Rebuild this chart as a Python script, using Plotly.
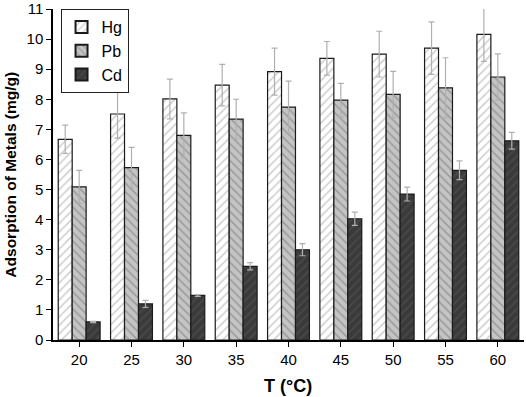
import plotly.graph_objects as go

temps = [20, 25, 30, 35, 40, 45, 50, 55, 60]
hg = [6.67, 7.51, 8.01, 8.47, 8.92, 9.36, 9.50, 9.70, 10.16]
hg_err = [0.47, 0.80, 0.66, 0.69, 0.78, 0.56, 0.76, 0.87, 0.90]
pb = [5.09, 5.73, 6.80, 7.34, 7.74, 7.97, 8.16, 8.38, 8.74]
pb_err = [0.55, 0.67, 0.75, 0.66, 0.86, 0.56, 0.77, 1.00, 0.77]
cd = [0.60, 1.20, 1.48, 2.45, 3.00, 4.03, 4.85, 5.64, 6.62]
cd_err = [0.02, 0.12, 0.03, 0.12, 0.20, 0.22, 0.23, 0.31, 0.28]

FONT = "Liberation Sans, Arial, sans-serif"

series = [
    ("Hg", hg, hg_err, "white", "#9a9a9a", "/"),
    ("Pb", pb, pb_err, "#c4c4c4", "#6e6e6e", "\\"),
    ("Cd", cd, cd_err, "#3a3a3a", "#5a5a5a", "/"),
]

fig = go.Figure()
for name, vals, errs, bg, fg, shape in series:
    fig.add_trace(go.Bar(
        x=temps, y=vals, name=name,
        marker=dict(
            color=bg,
            line=dict(color="#1a1a1a", width=1.2),
            pattern=dict(shape=shape, bgcolor=bg, fgcolor=fg, size=6, solidity=0.25, fillmode="overlay"),
        ),
        error_y=dict(type="data", array=errs, visible=True, color="#b0b0b0", thickness=1.2, width=3),
        cliponaxis=True,
    ))

fig.update_layout(
    width=526, height=397,
    margin=dict(l=53, r=2, t=9, b=57, autoexpand=False),
    paper_bgcolor="white", plot_bgcolor="white",
    barmode="group", bargap=0.2, bargroupgap=0,
    font=dict(family=FONT, size=15, color="black"),
    showlegend=True,
    legend=dict(
        x=0.016, y=1.0, xanchor="left", yanchor="top",
        bordercolor="#222222", borderwidth=1, bgcolor="white",
        font=dict(size=16, family=FONT), tracegroupgap=0,
        itemsizing="constant", itemwidth=30,
    ),
    xaxis=dict(
        range=[17.5, 62.5], tickmode="array", tickvals=temps,
        ticktext=[str(t) for t in temps],
        showline=True, linecolor="black", linewidth=1.5,
        ticks="outside", ticklen=5, tickwidth=1.2, tickcolor="black",
        showgrid=False, zeroline=False, automargin=False,
        tickfont=dict(size=15, family=FONT),
    ),
    yaxis=dict(
        range=[0, 11], dtick=1,
        showline=True, linecolor="black", linewidth=1.5,
        ticks="outside", ticklen=5, tickwidth=1.2, tickcolor="black",
        showgrid=False, zeroline=False, automargin=False,
        tickfont=dict(size=15, family=FONT),
    ),
    annotations=[
        dict(text="<b>T (°C)</b>", x=0.499, y=-0.139, xref="paper", yref="paper",
             xanchor="center", yanchor="middle", showarrow=False,
             font=dict(size=18, family=FONT)),
        dict(text="<b>Adsorption of Metals (mg/g)</b>", x=-0.091, y=0.5, xref="paper", yref="paper",
             xanchor="center", yanchor="middle", showarrow=False, textangle=-90,
             font=dict(size=15.5, family=FONT)),
    ],
)

fig.write_html(
    "out.html",
    config={"displayModeBar": False},
    post_script="document.body.style.margin='0px';document.body.style.overflow='hidden';",
)
